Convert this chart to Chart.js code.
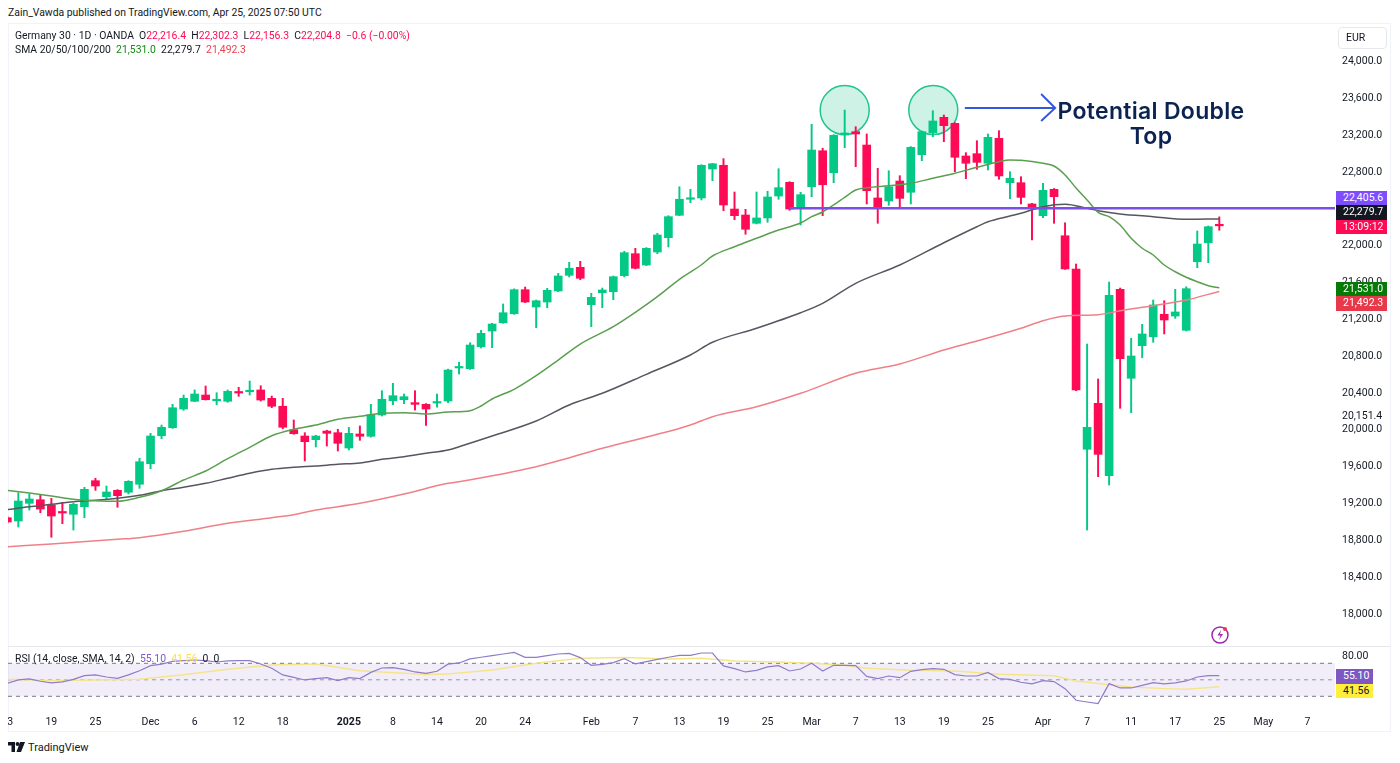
<!DOCTYPE html>
<html>
<head>
<meta charset="utf-8">
<title>Germany 30</title>
<script src="https://cdn.jsdelivr.net/npm/chart.js@4/dist/chart.umd.min.js"></script>
<style>
  html, body { margin: 0; padding: 0; background: #fff; }
  body { width: 1400px; height: 763px; position: relative; overflow: hidden; font-family: Roboto, sans-serif; color: #131722; }
  canvas { position: absolute; left: 8px; }
  #priceChart { top: 24px; }
  #rsiChart { top: 647px; }
  .frame { position: absolute; left: 8px; top: 23px; width: 1383px; height: 709px; border: 1px solid #f0f3fa; box-sizing: border-box; }
  .divider { position: absolute; left: 8px; top: 646px; width: 1383px; height: 1px; background: #e6e8ee; }
  .txt { position: absolute; white-space: nowrap; font-size: 10.4px; line-height: 14px; }
  .badge { position: absolute; left: 1336px; width: 51px; height: 14.5px; line-height: 14.5px; color: #fff; font-size: 10.5px; padding-left: 7px; box-sizing: border-box; }
  .up { color: #ff0a54; }
  #callout { position: absolute; left: 1041px; top: 99px; width: 220px; text-align: center; font-family: Inter, sans-serif; font-weight: 600; font-size: 23px; line-height: 25px; color: #0b2350; letter-spacing: 0.3px; }
  #eur { position: absolute; left: 1338px; top: 27px; width: 49px; height: 22px; border: 1px solid #e6e8ee; border-radius: 4px; box-sizing: border-box; font-size: 10.5px; line-height: 20px; padding-left: 7px; }
</style>
</head>
<body>
<div class="frame"></div>
<canvas id="priceChart" width="1383" height="622"></canvas>
<canvas id="rsiChart" width="1383" height="85"></canvas>
<div class="divider"></div>

<div class="txt" style="left:8px;top:6px">Zain_Vawda published on TradingView.com, Apr 25, 2025 07:50 UTC</div>
<div class="txt" style="left:15px;top:29px">Germany 30 · 1D · OANDA&nbsp; O<span class="up">22,216.4</span>&nbsp; H<span class="up">22,302.3</span>&nbsp; L<span class="up">22,156.3</span>&nbsp; C<span class="up">22,204.8</span>&nbsp; <span class="up">−0.6 (−0.00%)</span></div>
<div class="txt" style="left:15px;top:43px">SMA 20/50/100/200&nbsp; <span style="color:#128a12">21,531.0</span>&nbsp; 22,279.7&nbsp; <span style="color:#e8434f">21,492.3</span></div>
<div class="txt" style="left:15px;top:652px">RSI (14, close, SMA, 14, 2)&nbsp; <span style="color:#7e57c2">55.10</span>&nbsp; <span style="color:#fbe04a">41.56</span>&nbsp; 0&nbsp; 0</div>

<div id="eur">EUR</div>
<div id="callout">Potential Double<br>Top</div>

<div class="badge" style="top:190.5px;background:#7e4dff">22,405.6</div>
<div class="badge" style="top:205px;background:#131722">22,279.7</div>
<div class="badge" style="top:219.5px;background:#ff0a54">13:09:12</div>
<div class="badge" style="top:281.5px;background:#067a06">21,531.0</div>
<div class="badge" style="top:296px;background:#e8394a">21,492.3</div>
<div class="badge" style="top:669px;width:37px;background:#7e57c2">55.10</div>
<div class="badge" style="top:683.5px;width:37px;background:#ffee3a;color:#131722">41.56</div>

<svg style="position:absolute;left:1210px;top:625px" width="20" height="20" viewBox="0 0 20 20">
  <circle cx="10" cy="10" r="8" fill="none" stroke="#9c27b0" stroke-width="1.5"/>
  <path d="M11 5 L7.5 10.5 H10.5 L9 15 L13 9 H10 Z" fill="#9c27b0"/>
  <circle cx="15" cy="4" r="2" fill="#f23645"/>
</svg>
<svg style="position:absolute;left:8px;top:742px" width="17" height="11" viewBox="0 0 17 11">
  <path d="M0 0 H7 V10 H3.5 V3.5 H0 Z" fill="#131722"/>
  <circle cx="9.5" cy="2" r="1.9" fill="#131722"/>
  <path d="M12 0 H17 L13 10 H8.5 Z" fill="#131722"/>
</svg>
<div class="txt" style="left:28px;top:741px;font-size:11px">TradingView</div>

<script>
// candles, one entry per session, oldest first
const opens = [19035,18999,19191,19230,19173,19093,19072,19154,19437,19263,19332,19311,19398,19621,19925,20012,20215,20299,20367,20305,
  20299,20397,20403,20422,20331,20245,19990,19922,19882,19976,19958,19792,19944,19919,20150,20305,20316,20284,20266,20280,
  20302,20661,20653,20892,21062,21152,21250,21511,21323,21377,21497,21667,21754,21348,21478,21489,21663,21902,21779,21920,
  22076,22319,22493,22507,22822,22862,22387,22322,22232,22290,22528,22677,22401,22629,23020,22781,23191,23227,23082,22507,
  22474,22691,22569,22977,23216,23383,23318,22963,22988,22884,23155,22673,22673,22442,22315,22601,22097,21736,19778,20277,
  19491,21515,20549,20903,21000,21244,21225,21070,21815,22021,22216.4];
const highs = [19050,19306,19292,19281,19245,19202,19191,19365,19463,19379,19340,19437,19680,19951,20041,20266,20367,20422,20465,20392,
  20422,20451,20519,20468,20356,20331,20096,19958,19930,19985,19995,20016,20031,20266,20414,20494,20378,20414,20275,20378,
  20648,20722,20935,21070,21146,21356,21520,21540,21399,21526,21689,21808,21819,21472,21529,21660,21928,21960,21968,22123,
  22315,22629,22601,22868,22884,22934,22572,22384,22572,22580,22825,22684,22569,23307,23047,23195,23462,23281,23202,22829,
  22803,22749,23065,23235,23455,23408,23325,22999,23129,23202,23238,22792,22738,22450,22666,22610,22238,21790,20921,20541,
  21594,21529,20983,21135,21399,21391,21515,21543,22148,22203,22302.3];
const lows = [18975,18934,19118,19089,18822,18970,18901,19035,19332,19235,19148,19292,19354,19567,19893,20005,20201,20295,20313,20262,
  20288,20353,20367,20302,20229,20001,19941,19651,19803,19813,19759,19770,19875,19910,20139,20262,20273,20204,20038,20234,
  20284,20595,20645,20878,20881,21146,21243,21370,21098,21315,21490,21649,21619,21109,21315,21402,21649,21736,21772,21902,
  21975,22315,22456,22485,22695,22369,22271,22113,22225,22243,22493,22373,22214,22521,22315,22673,23053,22847,22442,22232,
  22427,22395,22442,22912,23172,23118,22792,22716,22818,22811,22710,22499,22442,22051,22293,22232,21732,20414,18901,19480,
  19390,20223,20175,20772,20940,21030,21200,21062,21750,21804,22156.3];
const closes = [18988,19216,19238,19129,19053,19086,19180,19343,19379,19314,19274,19430,19643,19922,20016,20229,20331,20378,20316,20313,
  20407,20389,20414,20313,20245,20017,19947,19860,19922,19951,19843,19951,19919,20153,20321,20360,20349,20266,20215,20288,
  20639,20668,20910,21037,21138,21261,21511,21377,21391,21504,21660,21743,21635,21428,21508,21652,21913,21743,21960,22105,
  22304,22493,22503,22862,22879,22431,22315,22167,22290,22518,22619,22387,22543,23028,22651,23188,23213,23202,22586,22409,
  22629,22503,23057,23227,23343,23292,22949,22884,22894,23166,22746,22721,22514,22391,22590,22521,21736,20422,20016,19723,
  21450,20762,20791,21030,21345,21182,21269,21522,22007,22195,22204.8];

// moving averages, read at the session index listed beside each
const sma20At = [0,2,4,6,8,10,12,14,16,18,20,22,24,26,28,30,32,34,36,38,40,42,43,44,46,48,50,52,55,57,59,61,63,64,66,68,70,72,73,74,75,76,77,78,80,82,84,86,88,90,91,92,94,95,96,97,98,99,100,101,102,103,104,105,106,107,108,109,110];
const sma20 = [19332,19303,19270,19235,19219,19213,19256,19328,19444,19542,19676,19799,19925,19995,20041,20103,20136,20169,20175,20161,20183,20197,20248,20324,20429,20577,20747,20921,21109,21265,21435,21624,21782,21877,21978,22069,22159,22235,22304,22355,22431,22514,22594,22619,22640,22666,22721,22775,22840,22901,22919,22916,22884,22854,22757,22615,22485,22351,22304,22213,22069,21961,21888,21779,21706,21646,21598,21554,21531];
const sma50At = [0,2,4,6,8,10,12,14,16,18,20,22,24,26,28,30,32,34,36,38,40,41,44,48,51,54,58,62,64,68,72,74,77,81,85,88,89,91,92,94,96,98,99,101,104,107,110];
const sma50 = [19122,19154,19180,19209,19224,19245,19278,19328,19365,19408,19463,19517,19560,19582,19596,19615,19629,19669,19697,19734,19770,19806,19922,20085,20259,20386,20592,20802,20940,21092,21261,21363,21580,21779,22021,22195,22249,22311,22341,22412,22438,22395,22369,22333,22304,22275,22279.7];
const sma100At = [0,4,10,12,16,20,24,26,28,32,36,40,41,48,54,62,64,68,72,77,81,85,88,92,94,96,99,101,104,107,110];
const sma100 = [18720,18749,18800,18818,18887,18974,19035,19067,19118,19191,19292,19408,19426,19589,19789,20041,20132,20240,20386,20603,20704,20856,20954,21092,21174,21225,21239,21283,21337,21399,21492.3];

// resistance line
const levelAt = [71,120.5];
const level = [22395,22395];

// RSI pane
const rsi = [45.8,49.8,51,48.2,46.2,47.4,50.6,55,55.9,53.4,51.8,55.9,61,67.2,69,72.4,73.2,74,73.2,71.6,
  73,73.2,73.2,69.2,64,55.9,53,49.8,51.4,52.6,49,52.6,51.4,59,64.3,64.7,62.7,59.5,57.9,60.3,
  69,70.4,75.3,77.3,79.3,81.3,83.3,77.3,77.3,79.3,81.3,82,76.9,67.6,68.8,70.8,75.7,69.2,72,74.8,
  77.3,79.7,79.7,82.5,82.5,66.8,63.5,59.5,61.5,65.6,67.2,60.7,63.1,70,60.7,67.6,67.6,67.2,54.2,51.4,
  54.6,52.6,60.3,62.3,63.5,62.7,56.3,54.6,54.6,59,51.4,50.6,47,45,49,47.8,39.3,25.2,23.1,21.1,
  45.4,40.1,40.1,43.3,46.6,45,46.2,48.6,53.4,55,55.1];
const rsiSmaAt = [0,4,8,12,16,20,24,28,32,34,36,38,40,44,48,52,56,60,63,66,70,73,76,78,82,86,90,95,97,100,102,105,107,110];
const rsiSma = [50.6,49,49.8,50.6,56,62.7,68,69.2,61,59.5,57.9,56.3,57,62,70,76,76.9,75.3,76,72.8,71.6,70,67.6,64,61.5,60.7,56.7,55,48.6,44,41.3,39.3,38.5,41.56];
const rsiBands = [70,50,30];

// axis ticks
const priceTicks = [24000,23600,23200,22800,22400,22000,21600,21200,20800,20400,20151.4,20000,19600,19200,18800,18400,18000];
const rsiTicks = [80];
const xTickAt = [0,4,8,13,17,21,25,31,35,39,43,47,53,57,61,65,69,73,77,81,85,89,94,98,102,106,110,114,118];
const xTickLabels = ['13','19','25','Dec','6','12','18','2025','8','14','20','24','Feb','7','13','19','25','Mar','7','13','19','25','Apr','7','11','17','25','May','7'];

const xMin = 0.0635;
const xMax = 120.5;
const FONT = 'Roboto, sans-serif';
const GREEN = '#04c986';
const RED = '#ff0a54';

function pairs(xs, ys) {
    return xs.map((x, i) => ({ x: x, y: ys[i] }));
}

function lineSet(data, color, width, order) {
    return {
        type: 'line',
        data: data,
        borderColor: color,
        borderWidth: width,
        pointRadius: 0,
        fill: false,
        order: order
    };
}

// scales keep the exact size we ask for, no auto padding around labels
function fixSize(prop, size) {
    return (scale) => {
        scale[prop] = size;
        scale.paddingLeft = scale.paddingRight = scale.paddingTop = scale.paddingBottom = 0;
    };
}

const candleColors = closes.map((c, i) => c >= opens[i] ? GREEN : RED);

const annotations = {
    id: 'annotations',
    // the two circles sit under the candles
    beforeDatasetsDraw(chart) {
        const { ctx, scales: { x, y } } = chart;
        ctx.save();
        [[76, 23462], [84.04, 23462]].forEach(([i, p]) => {
            ctx.beginPath();
            ctx.arc(x.getPixelForValue(i), y.getPixelForValue(p), 24.5, 0, Math.PI * 2);
            ctx.fillStyle = 'rgba(10, 190, 130, 0.2)';
            ctx.fill();
            ctx.lineWidth = 1.5;
            ctx.strokeStyle = '#22c48f';
            ctx.stroke();
        });
        ctx.restore();
    },
    afterDatasetsDraw(chart) {
        const { ctx, scales: { x, y } } = chart;
        const ax0 = x.getPixelForValue(86.9);
        const ax1 = x.getPixelForValue(95.1);
        const ay = y.getPixelForValue(23484);
        ctx.save();
        ctx.beginPath();
        ctx.moveTo(ax0, ay);
        ctx.lineTo(ax1, ay);
        ctx.moveTo(ax1 - 14, ay - 14);
        ctx.lineTo(ax1, ay);
        ctx.lineTo(ax1 - 14, ay + 13);
        ctx.lineWidth = 2;
        ctx.strokeStyle = '#3558e0';
        ctx.stroke();
        ctx.restore();
    }
};

new Chart(document.getElementById('priceChart').getContext('2d'), {
    type: 'bar',
    data: {
        datasets: [
            {
                data: lows.map((l, i) => ({ x: i, y: [l, highs[i]] })),
                backgroundColor: candleColors,
                barThickness: 1.3,
                grouped: false,
                order: 6
            },
            {
                data: opens.map((o, i) => ({ x: i, y: [o, closes[i]] })),
                backgroundColor: candleColors,
                barThickness: 8,
                minBarLength: 1.5,
                grouped: false,
                order: 5
            },
            Object.assign(lineSet(pairs(sma100At, sma100), '#f08088', 1.5, 4), { cubicInterpolationMode: 'monotone' }),
            Object.assign(lineSet(pairs(sma50At, sma50), '#555760', 1.5, 3), { cubicInterpolationMode: 'monotone' }),
            Object.assign(lineSet(pairs(sma20At, sma20), '#5a9f50', 1.5, 2), { cubicInterpolationMode: 'monotone' }),
            lineSet(pairs(levelAt, level), '#7a4fe8', 2.5, 1)
        ]
    },
    options: {
        responsive: false,
        animation: false,
        layout: { padding: 0 },
        plugins: { legend: { display: false }, tooltip: { enabled: false } },
        scales: {
            x: {
                type: 'linear',
                display: false,
                offset: false,
                min: xMin,
                max: xMax,
                grid: { display: false, offset: false }
            },
            y: {
                type: 'linear',
                position: 'right',
                min: 17641.5,
                max: 24396.4,
                grid: { display: false, drawTicks: false },
                border: { display: false },
                afterBuildTicks: (scale) => { scale.ticks = priceTicks.map(v => ({ value: v })); },
                afterFit: fixSize('width', 56),
                ticks: {
                    autoSkip: false,
                    padding: 7,
                    labelOffset: 1,
                    color: '#131722',
                    font: { family: FONT, size: 10.5 },
                    callback: (v) => v.toLocaleString('en-US', { minimumFractionDigits: 1, maximumFractionDigits: 1 })
                }
            }
        }
    },
    plugins: [annotations]
});

new Chart(document.getElementById('rsiChart').getContext('2d'), {
    type: 'line',
    data: {
        datasets: [
            Object.assign(lineSet(pairs([xMin, xMax], [rsiBands[0], rsiBands[0]]), '#787b86', 1, 3), {
                borderDash: [4, 4],
                fill: { target: 2 },
                backgroundColor: 'rgba(126, 87, 194, 0.1)'
            }),
            Object.assign(lineSet(pairs([xMin, xMax], [rsiBands[1], rsiBands[1]]), '#9a9ca6', 1, 3), { borderDash: [4, 4] }),
            Object.assign(lineSet(pairs([xMin, xMax], [rsiBands[2], rsiBands[2]]), '#787b86', 1, 3), { borderDash: [4, 4] }),
            lineSet(pairs(rsiSmaAt, rsiSma), '#f5e58a', 1.5, 2),
            lineSet(rsi.map((v, i) => ({ x: i, y: v })), '#8f7cc8', 1.2, 1)
        ]
    },
    options: {
        responsive: false,
        animation: false,
        layout: { padding: 0 },
        plugins: { legend: { display: false }, tooltip: { enabled: false } },
        scales: {
            x: {
                type: 'linear',
                min: xMin,
                max: xMax,
                grid: { display: false, drawTicks: false },
                border: { display: false },
                afterBuildTicks: (scale) => { scale.ticks = xTickAt.map(v => ({ value: v })); },
                afterFit: fixSize('height', 27),
                ticks: {
                    autoSkip: false,
                    maxRotation: 0,
                    padding: 11,
                    color: '#131722',
                    font: (c) => ({
                        family: FONT,
                        size: 10.5,
                        weight: c.tick && c.tick.value === 31 ? 'bold' : 'normal'
                    }),
                    callback: (v) => xTickLabels[xTickAt.indexOf(v)]
                }
            },
            y: {
                type: 'linear',
                position: 'right',
                min: 19.45,
                max: 89.76,
                grid: { display: false, drawTicks: false },
                border: { display: false },
                afterBuildTicks: (scale) => { scale.ticks = rsiTicks.map(v => ({ value: v })); },
                afterFit: fixSize('width', 56),
                ticks: {
                    autoSkip: false,
                    padding: 7,
                    labelOffset: 1,
                    color: '#131722',
                    font: { family: FONT, size: 10.5 },
                    callback: (v) => v.toFixed(2)
                }
            }
        }
    }
});
</script>
</body>
</html>
